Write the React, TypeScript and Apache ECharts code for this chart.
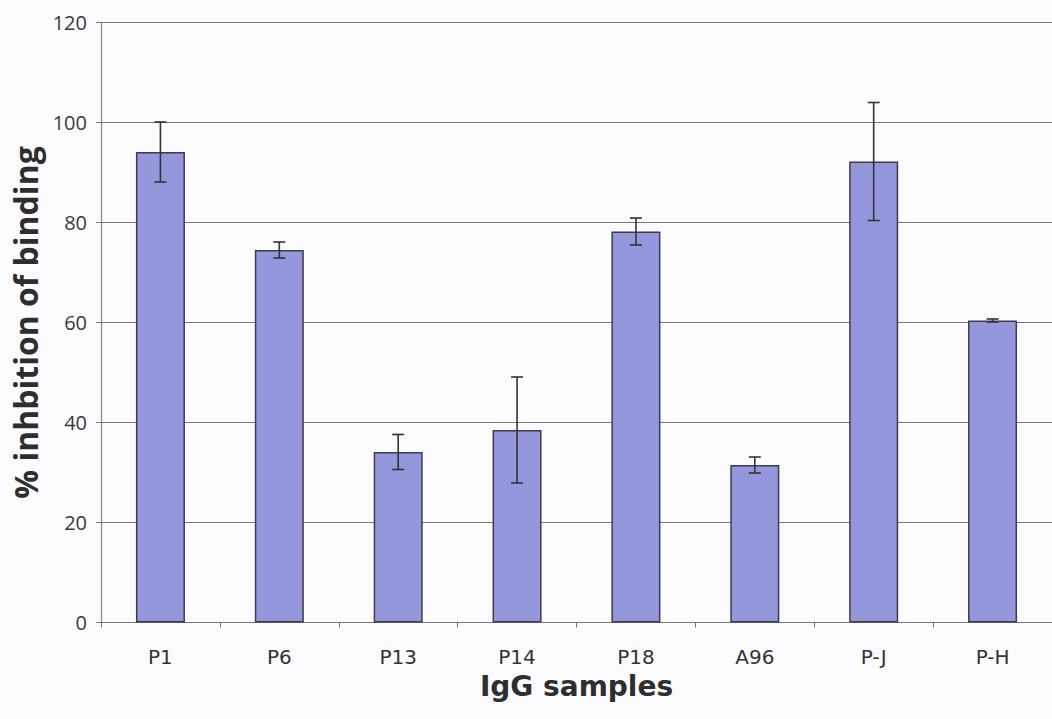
import React, { useEffect, useRef } from "react";
import * as echarts from "echarts";

const categories = ["P1", "P6", "P13", "P14", "P18", "A96", "P-J", "P-H"];
const inhibition = [94.1, 74.5, 34.1, 38.5, 78.2, 31.5, 92.2, 60.4];
const errors = [6.0, 1.6, 3.5, 10.6, 2.7, 1.6, 11.8, 0.3];
const yTicks = [0, 20, 40, 60, 80, 100, 120];

export default function App() {
  const ref = useRef<HTMLDivElement>(null);
  useEffect(() => {
    if (!ref.current) return;
    const chart = echarts.init(ref.current, null, { renderer: "svg" });
    const errData = inhibition.map((v, i) => [i, v - errors[i], v + errors[i]]);
    chart.setOption({
      animation: false,
      backgroundColor: "#fbfbfd",
      grid: { left: 101, top: 22.5, width: 964, height: 600 },
      xAxis: {
        type: "category",
        data: categories,
        name: "IgG samples",
        nameLocation: "middle",
        nameGap: 50,
        nameTextStyle: {
          fontFamily: "DejaVu Sans",
          fontWeight: "bold",
          fontSize: 28,
          color: "#2e2e2e",
        },
        axisLine: { lineStyle: { color: "#777", width: 1.2 } },
        axisTick: { show: true, length: 5, lineStyle: { color: "#777" } },
        axisLabel: {
          fontFamily: "DejaVu Sans",
          fontSize: 20,
          color: "#333",
          margin: 24,
        },
      },
      yAxis: {
        type: "value",
        min: yTicks[0],
        max: yTicks[yTicks.length - 1],
        interval: 20,
        name: "% inhbition of binding",
        nameLocation: "middle",
        nameGap: 58,
        nameTextStyle: {
          fontFamily: "Open Sans",
          fontWeight: "bold",
          fontSize: 32,
          color: "#2e2e2e",
        },
        axisLine: { show: true, lineStyle: { color: "#888", width: 1.2 } },
        axisTick: { show: true, length: 5, lineStyle: { color: "#777" } },
        axisLabel: {
          fontFamily: "Open Sans",
          fontSize: 20,
          color: "#3a3a3a",
          margin: 14,
        },
        splitLine: { lineStyle: { color: "#777", width: 1.2 } },
      },
      series: [
        {
          type: "bar",
          data: inhibition,
          barWidth: 49,
          itemStyle: {
            color: "#9497db",
            borderColor: "#3c3c4e",
            borderWidth: 1.5,
          },
        },
        {
          type: "custom",
          data: errData,
          z: 10,
          renderItem: (params: any, api: any) => {
            const x = api.value(0);
            const lo = api.coord([x, api.value(1)]);
            const hi = api.coord([x, api.value(2)]);
            const hw = 6;
            const style = { stroke: "#333", lineWidth: 1.6 };
            return {
              type: "group",
              children: [
                { type: "line", shape: { x1: lo[0], y1: lo[1], x2: hi[0], y2: hi[1] }, style },
                { type: "line", shape: { x1: hi[0] - hw, y1: hi[1], x2: hi[0] + hw, y2: hi[1] }, style },
                { type: "line", shape: { x1: lo[0] - hw, y1: lo[1], x2: lo[0] + hw, y2: lo[1] }, style },
              ],
            };
          },
        },
      ],
    });
    return () => chart.dispose();
  }, []);
  return (
    <div
      ref={ref}
      style={{ position: "fixed", left: 0, top: 0, width: 1052, height: 719 }}
    />
  );
}
